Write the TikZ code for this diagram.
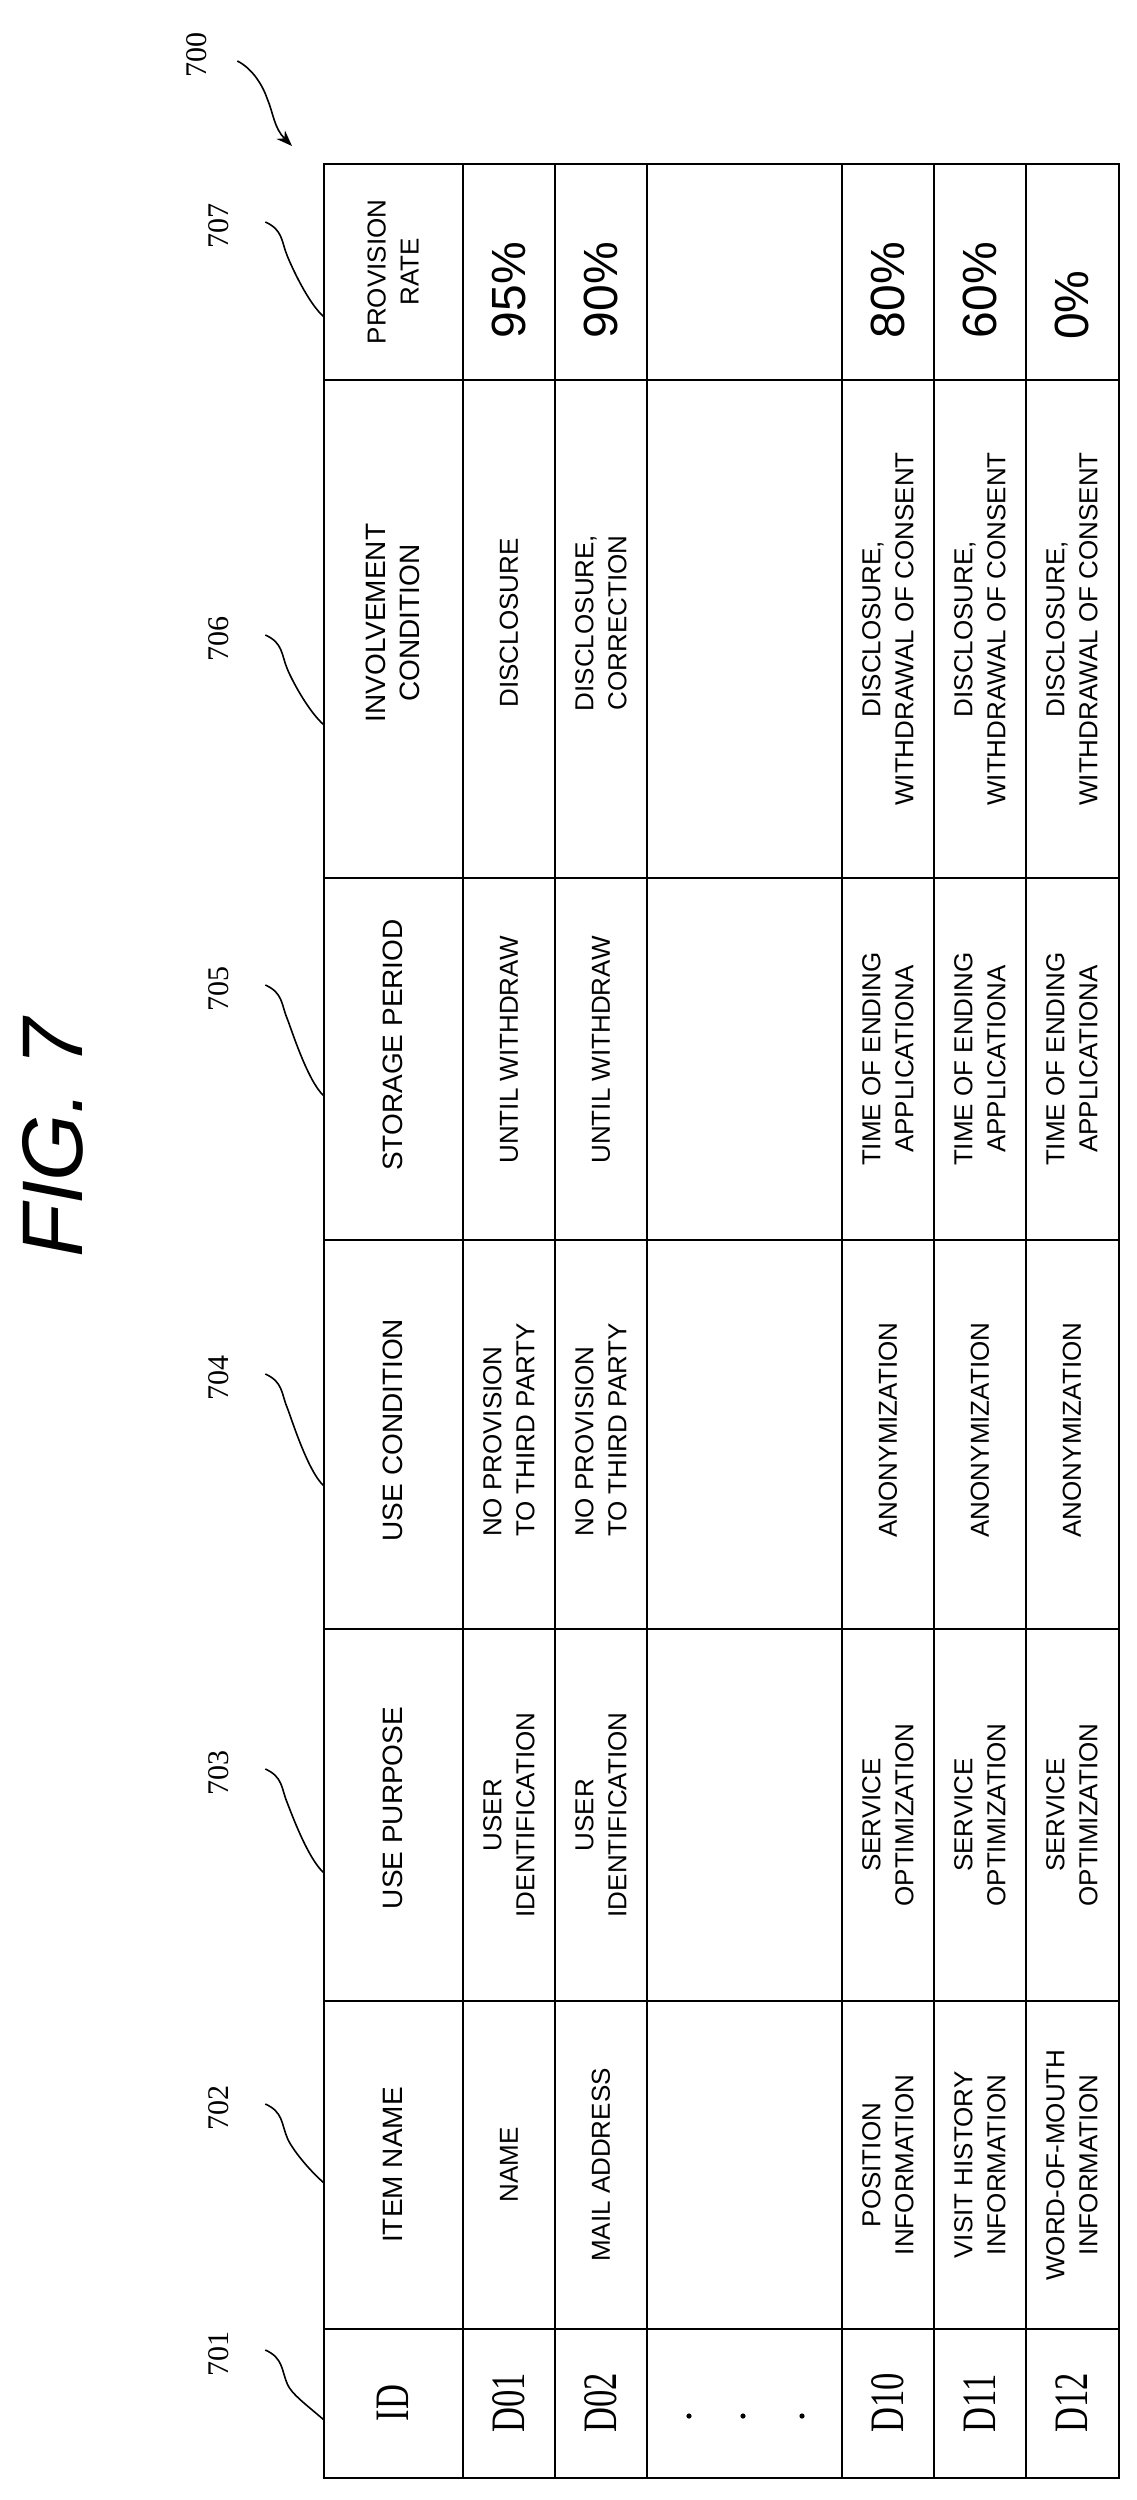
\documentclass[tikz,border=0pt]{standalone}
\usepackage{fontspec}
\setmainfont{Liberation Sans}
\newfontfamily\serifid{Liberation Serif}
\usetikzlibrary{arrows.meta}
\begin{document}
\begin{tikzpicture}[x=1pt,y=-1pt,
  grid/.style={line width=2.6pt,black},
  lead/.style={line width=1.6pt,black},
  cell/.style={rotate=90,align=center,inner sep=0pt,font=\fontsize{26}{33}\selectfont},
  lcell/.style={cell,align=left},
  head/.style={cell,font=\fontsize{28}{34}\selectfont},
  idc/.style={rotate=90,inner sep=0pt,font=\serifid\fontsize{48}{50}\selectfont},
  pct/.style={rotate=90,inner sep=0pt,font=\fontsize{48}{50}\selectfont},
  ref/.style={rotate=90,inner sep=0pt,font=\serifid\fontsize{30}{30}\selectfont}]
\useasboundingbox (0,0) rectangle (1137,2500);
% grid
\draw[grid] (324,164) rectangle (1119,2478);
\foreach \x in {463,555,647,842,934,1026} \draw[grid] (\x,164) -- (\x,2478);
\foreach \y in {380,878,1240,1629,2001,2329} \draw[grid] (324,\y) -- (1119,\y);
% title
\node[rotate=90,inner sep=0pt,font=\itshape\fontsize{86}{86}\selectfont] (fig) at (53,1138) {FIG. 7};
% ID column
\newcommand{\idtxt}[1]{\scalebox{0.72}[1]{#1}}
\node[idc] (id0) at (393,2403) {\idtxt{ID}};
\node[idc] (id1) at (509,2403) {\idtxt{D01}};
\node[idc] (id2) at (601,2403) {\idtxt{D02}};
\node[idc] (id10) at (888,2403) {\idtxt{D10}};
\node[idc] (id11) at (980,2403) {\idtxt{D11}};
\node[idc] (id12) at (1072,2403) {\idtxt{D12}};
\foreach \x in {689,743,802} \fill (\x,2416) circle (2.6);
% item name
\node[head] (h702) at (393,2165) {ITEM NAME};
\node[cell] (c1702) at (509,2165) {NAME};
\node[cell] (c2702) at (601,2165) {MAIL ADDRESS};
\node[cell] (c10702) at (888,2165) {POSITION\\INFORMATION};
\node[cell] (c11702) at (980,2165) {VISIT HISTORY\\INFORMATION};
\node[cell] (c12702) at (1072,2165) {WORD-OF-MOUTH\\INFORMATION};
% use purpose
\node[head] (h703) at (393,1808) {USE PURPOSE};
\node[cell] (c1703) at (509,1815) {USER\\IDENTIFICATION};
\node[cell] (c2703) at (601,1815) {USER\\IDENTIFICATION};
\node[cell] (c10703) at (888,1815) {SERVICE\\OPTIMIZATION};
\node[cell] (c11703) at (980,1815) {SERVICE\\OPTIMIZATION};
\node[cell] (c12703) at (1072,1815) {SERVICE\\OPTIMIZATION};
% use condition
\node[head] (h704) at (393,1430) {USE CONDITION};
\node[lcell] (c1704) at (509,1430) {NO PROVISION\\TO THIRD PARTY};
\node[lcell] (c2704) at (601,1430) {NO PROVISION\\TO THIRD PARTY};
\node[cell] (c10704) at (888,1430) {ANONYMIZATION};
\node[cell] (c11704) at (980,1430) {ANONYMIZATION};
\node[cell] (c12704) at (1072,1430) {ANONYMIZATION};
% storage period
\node[head] (h705) at (393,1045) {STORAGE PERIOD};
\node[cell] (c1705) at (509,1050) {UNTIL WITHDRAW};
\node[cell] (c2705) at (601,1050) {UNTIL WITHDRAW};
\node[cell] (c10705) at (888,1059) {TIME OF ENDING\\APPLICATIONA};
\node[cell] (c11705) at (980,1059) {TIME OF ENDING\\APPLICATIONA};
\node[cell] (c12705) at (1072,1059) {TIME OF ENDING\\APPLICATIONA};
% involvement condition
\node[head] (h706) at (393,623) {INVOLVEMENT\\CONDITION};
\node[cell] (c1706) at (509,623) {DISCLOSURE};
\node[cell] (c2706) at (601,623) {DISCLOSURE,\\CORRECTION};
\node[cell] (c10706) at (888,629) {DISCLOSURE,\\WITHDRAWAL OF CONSENT};
\node[cell] (c11706) at (980,629) {DISCLOSURE,\\WITHDRAWAL OF CONSENT};
\node[cell] (c12706) at (1072,629) {DISCLOSURE,\\WITHDRAWAL OF CONSENT};
% provision rate
\node[cell] (h707) at (393,272) {PROVISION\\RATE};
\node[pct] (c1707) at (509,290) {95\%};
\node[pct] (c2707) at (601,290) {90\%};
\node[pct] (c10707) at (888,290) {80\%};
\node[pct] (c11707) at (980,290) {60\%};
\node[pct] (c12707) at (1072,305) {0\%};
% reference labels with squiggly leaders
\foreach \n/\L/\E in {707/226/317,706/639/725,705/989/1096,704/1378/1486,703/1773/1873,702/2108/2183,701/2354/2420}{
  \node[ref] (r\n) at (219,\L) {\n};
  \coordinate (e\n) at (324,\E);
  \draw[lead] (r\n.south) ++(36,-4) .. controls +(18,8) and +(-6,-14) .. ++(22,34)
     .. controls +(4,10) and +(-16,-14) .. (e\n);
}
\node[ref] (r700) at (197,55) {700};
\coordinate (e700) at (292,146);
\draw[lead,-{Stealth[length=16pt,width=12pt]}] (r700.south) ++(30,6) .. controls +(16,8) and +(-4,-12) .. ++(30,38)
   .. controls +(6,14) and +(-18,-18) .. (e700);
\end{tikzpicture}
\end{document}
